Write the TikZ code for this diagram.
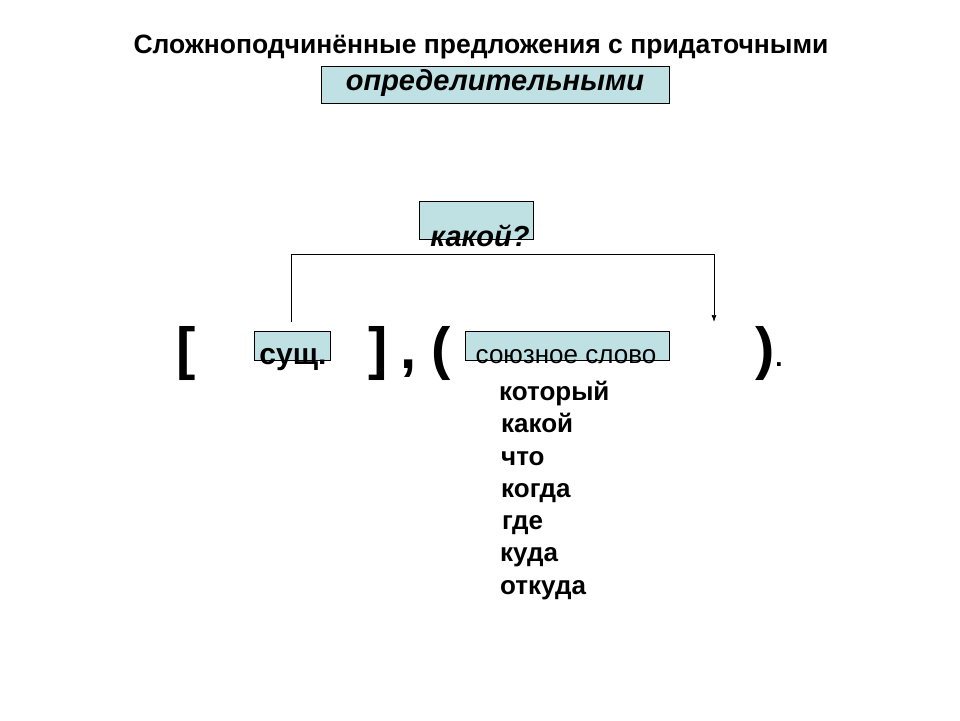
\documentclass[tikz,border=0pt]{standalone}
\usepackage{fontspec}
\usetikzlibrary{arrows.meta}
\setmainfont{Liberation Sans}
\begin{document}
\begin{tikzpicture}[x=1pt,y=-1pt,
  bx/.style={draw,fill=boxblue,line width=0.6pt},
  wd/.style={font=\fontsize{26}{28}\selectfont\bfseries,anchor=base west,inner sep=0},
  br/.style={font=\fontsize{58}{60}\selectfont\bfseries,anchor=base,inner sep=0}]
\definecolor{boxblue}{HTML}{BFE1E4}
\useasboundingbox (0,0) rectangle (960,720);
\node[font=\fontsize{26.5}{28}\selectfont\bfseries,anchor=base,inner sep=0] (title) at (481,53) {Сложноподчинённые предложения с придаточными};
\draw[bx] (321,66) rectangle (669,103);
\node[font=\fontsize{29}{30}\selectfont\bfseries\itshape,anchor=base,inner sep=0] (opr) at (495,90) {определительными};
\draw[bx] (419,201) rectangle (533,239);
\node[font=\fontsize{29}{30}\selectfont\bfseries\itshape,anchor=base,inner sep=0] (kak) at (480,246) {какой?};
\draw[bx] (254,331) rectangle (330,360);
\draw[bx] (465,331) rectangle (669,360);
\node[font=\fontsize{30}{32}\selectfont\bfseries,anchor=base,inner sep=0] (sush) at (293,364) {сущ.};
\node[font=\fontsize{26}{28}\selectfont,anchor=base,inner sep=0] (sl) at (566,363) {союзное слово};
\node[br] (lb) at (186,368) {[};
\node[br] (rb) at (378,368) {]};
\node[br] (cm) at (409,368) {,};
\node[br] (lp) at (441,368) {(};
\node[br] (rp) at (765,368) {)};
\node[font=\fontsize{26}{28}\selectfont\bfseries,anchor=base,inner sep=0] (dot) at (779,366) {.};
\coordinate (a) at (291,322);
\coordinate (b) at (714,322);
\draw[line width=0.7pt,-{Latex[length=7pt,width=5pt]}] (a) |- (b |- 0,254) -- (b);
\node[wd] (w1) at (499,400) {который};
\node[wd] (w2) at (501,432) {какой};
\node[wd] (w3) at (501,465) {что};
\node[wd] (w4) at (501,497) {когда};
\node[wd] (w5) at (502,529) {где};
\node[wd] (w6) at (500,561) {куда};
\node[wd] (w7) at (500,594) {откуда};
\end{tikzpicture}
\end{document}
